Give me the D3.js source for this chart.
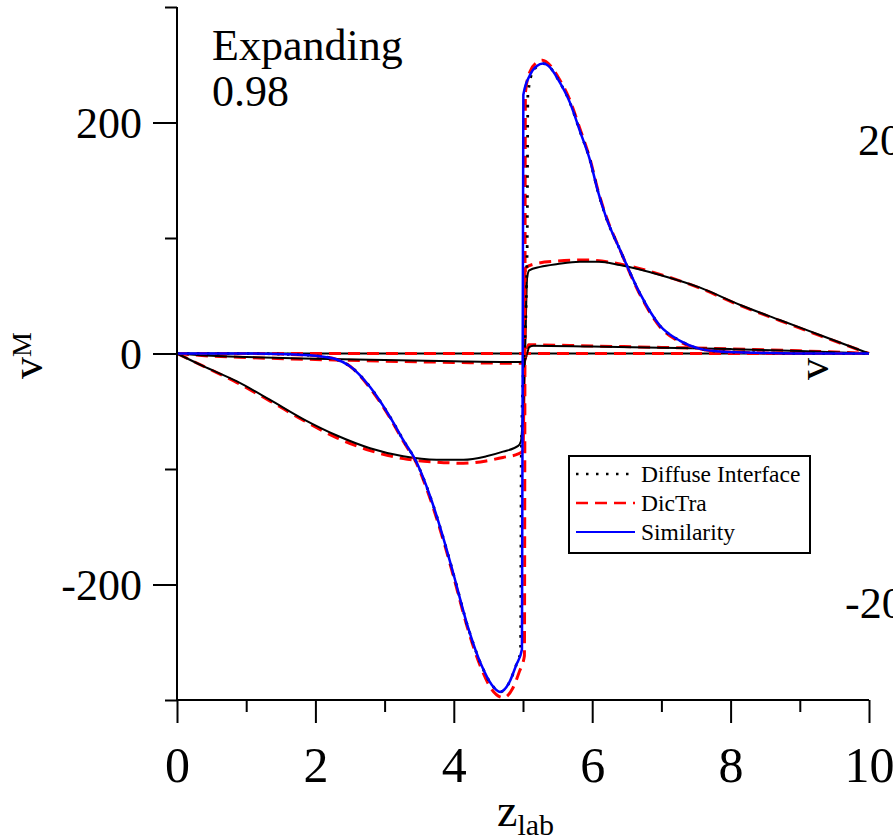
<!DOCTYPE html>
<html>
<head>
<meta charset="utf-8"/>
<title>Expanding 0.98</title>
<style>
  body { margin: 0; background: #fff; }
  svg text { font-family: "Liberation Serif", "Times New Roman", serif; fill: #000; }
</style>
</head>
<body>
<svg id="viz" width="893" height="840"></svg>
<script src="https://d3js.org/d3.v7.min.js"></script>
<script>
// ---- data: [z_lab, v^M] ----
var similarity = [[0,0],[0.5,0],[1,0],[1.5,-0.5],[2,-2],[2.3,-5],[2.5,-11],[2.79,-29],[3.08,-55],[3.27,-75],
  [3.46,-94],[3.66,-124],[3.85,-160],[4.0,-192],[4.2,-236],[4.4,-270],[4.55,-287],[4.67,-293],[4.8,-285],
  [4.9,-270],[4.985,-256],[5.005,224],[5.1,241],[5.2,249],[5.29,251],[5.4,247],[5.5,238],[5.68,217],
  [5.82,193],[5.97,167],[6.08,141],[6.2,118],[6.4,90],[6.69,52],[6.98,24],[7.27,11],[7.56,4],[7.9,1.5],
  [8.5,0.5],[9,0],[10,0]];
var dictraBig = [[0,0],[0.5,0],[1,0],[1.5,-0.5],[2,-2],[2.3,-5],[2.5,-11],[2.79,-30],[3.08,-56],[3.27,-76],
  [3.46,-95],[3.66,-126],[3.85,-162],[4.0,-194],[4.2,-238],[4.4,-273],[4.55,-291],[4.72,-298],[4.85,-290],
  [4.95,-275],[5.02,-262],[5.035,226],[5.1,244],[5.2,252],[5.28,254],[5.4,249],[5.5,240],[5.68,219],
  [5.82,195],[5.97,168],[6.08,142],[6.2,119],[6.4,90],[6.69,51],[6.98,23],[7.27,10],[7.56,4],[7.9,1.5],
  [8.5,0.5],[9,0],[10,0]];
var diffuseBig = [[0,0],[0.5,0],[1,0],[1.5,-0.5],[2,-2],[2.3,-5],[2.5,-11],[2.79,-29],[3.08,-55],[3.27,-75],
  [3.46,-94],[3.66,-124],[3.85,-160],[4.0,-192],[4.2,-236],[4.4,-270],[4.55,-287],[4.67,-293],[4.8,-285],
  [4.9,-270],[4.965,-258],[4.975,-90],[5.06,90],[5.07,224],[5.15,245],[5.29,251],[5.4,247],[5.5,238],
  [5.68,217],[5.82,193],[5.97,167],[6.08,141],[6.2,118],[6.4,90],[6.69,52],[6.98,24],[7.27,11],[7.56,4],
  [7.9,1.5],[8.5,0.5],[9,0],[10,0]];

var solidMid = [[0,0],[0.38,-11],[0.86,-24],[1.34,-40],[1.83,-57],[2.31,-71],[2.79,-82],[3.27,-89],[3.75,-92],
  [4.14,-92],[4.47,-89],[4.71,-85],[4.93,-80],[4.97,-76],[5.03,0],[5.06,66],[5.09,72],[5.25,75],[5.5,77.5],
  [5.82,79.5],[6.1,79.5],[6.4,76.6],[6.98,68],[7.56,57],[8.14,42],[8.71,29],[9.29,16],[10,0]];
var dictraMid = [[0,0],[0.38,-11],[0.86,-25],[1.34,-41],[1.83,-58],[2.31,-73],[2.79,-84],[3.27,-91],[3.75,-94],
  [4.14,-95],[4.47,-93],[4.71,-90],[4.93,-87],[5.0,-84],[5.02,0],[5.035,74],[5.2,78],[5.5,80],[5.9,81],
  [6.4,77.5],[6.98,68.5],[7.56,56.5],[8.14,41.5],[8.71,28.5],[9.29,15.5],[10,0]];

var solidSmall = [[0,0],[0.5,-2],[1,-3],[2,-4.5],[3,-5.7],[4,-6.7],[4.95,-7.3],[5.02,-6.5],[5.06,0],[5.09,5.5],
  [5.15,6.8],[6,6],[7,5],[8,3.8],[9,2.2],[10,0]];
var dictraSmall = [[0,0],[0.5,-2.3],[1,-3.5],[2,-5.2],[3,-6.6],[4,-7.7],[4.97,-8.5],[5.02,-7],[5.05,0],
  [5.08,7.5],[6,6.5],[7,5.3],[8,4],[9,2.3],[10,0]];

var zeroLine = [[0,0],[10,0]];

var xMajor = [0, 2, 4, 6, 8, 10];
var xMinor = [1, 3, 5, 7, 9];
var yMajor = [-200, 0, 200];
var yMinor = [-300, -100, 100, 300];

var legendItems = ["Diffuse Interface", "DicTra", "Similarity"];

// ---- layout ----
const svg = d3.select("#viz");
const x = d3.scaleLinear().domain([0, 10]).range([177, 869]);
const y = d3.scaleLinear().domain([-300, 300]).range([700, 7]);

const line = d3.line()
  .x(d => x(d[0]))
  .y(d => y(d[1]))
  .curve(d3.curveMonotoneX);

// styles
const sRed = {stroke: "#ff0000", width: 3, dash: "12,7"};
const sBlack = {stroke: "#000", width: 2, dash: null};
const sDot = {stroke: "#000", width: 2.8, dash: "2.5,7.5"};
const sBlue = {stroke: "#0000ff", width: 2.5, dash: null};

function draw(data, s) {
  svg.append("path")
    .datum(data)
    .attr("d", line)
    .attr("fill", "none")
    .attr("stroke", s.stroke)
    .attr("stroke-width", s.width)
    .attr("stroke-dasharray", s.dash)
    .attr("stroke-linejoin", "round");
}

// text from the neighbouring panel, clipped by the page edge
svg.append("text").attr("x", 858).attr("y", 155).attr("font-size", 44).text("200");
svg.append("text").attr("x", 845).attr("y", 618).attr("font-size", 44).text("-200");
svg.append("text").attr("transform", "translate(828,380) rotate(-90)").attr("font-size", 44).text("v");

// curves
draw(zeroLine, sBlack);
draw(zeroLine, sRed);
draw(dictraSmall, sRed);
draw(solidSmall, sBlack);
draw(dictraMid, sRed);
draw(solidMid, sBlack);
draw(dictraBig, sRed);
draw(diffuseBig, sDot);
draw(similarity, sBlue);

// axes
function styleAxis(g) {
  g.select(".domain").remove();
  g.selectAll(".tick line").attr("stroke", "#000").attr("stroke-width", 2);
}

svg.append("g")
  .attr("transform", `translate(${x(0)},0)`)
  .call(d3.axisLeft(y).tickValues(yMinor).tickSize(12).tickFormat(""))
  .call(styleAxis);
svg.append("g")
  .attr("transform", `translate(${x(0)},0)`)
  .call(d3.axisLeft(y).tickValues(yMajor).tickSize(24).tickPadding(11).tickFormat(d => String(d)))
  .call(styleAxis)
  .call(g => g.selectAll("text")
    .attr("font-size", 44)
    .attr("font-family", "Liberation Serif")
    .attr("fill", "#000")
    .attr("dy", "0.34em"));

svg.append("g")
  .attr("transform", `translate(0,${y(-300)})`)
  .call(d3.axisBottom(x).tickValues(xMinor).tickSize(12).tickFormat(""))
  .call(styleAxis);
svg.append("g")
  .attr("transform", `translate(0,${y(-300)})`)
  .call(d3.axisBottom(x).tickValues(xMajor).tickSize(23).tickFormat(d => String(d)))
  .call(styleAxis)
  .call(g => g.selectAll("text")
    .attr("font-size", 50)
    .attr("font-family", "Liberation Serif")
    .attr("fill", "#000")
    .attr("y", 82)
    .attr("dy", 0));

// axis lines
svg.append("line").attr("x1", x(0)).attr("x2", x(0)).attr("y1", y(300)).attr("y2", y(-300))
  .attr("stroke", "#000").attr("stroke-width", 2);
svg.append("line").attr("x1", x(0)).attr("x2", x(10)).attr("y1", y(-300)).attr("y2", y(-300))
  .attr("stroke", "#000").attr("stroke-width", 2);

// axis titles
const yt = svg.append("text")
  .attr("transform", "translate(42,379) rotate(-90)")
  .attr("font-size", 44);
yt.append("tspan").text("v");
yt.append("tspan").attr("font-size", 28).attr("dy", -11).text("M");

const xt = svg.append("text")
  .attr("x", 497).attr("y", 826)
  .attr("font-size", 46);
xt.append("tspan").text("z");
xt.append("tspan").attr("font-size", 30).attr("dy", 9).text("lab");

// annotation
svg.append("text").attr("x", 212).attr("y", 60).attr("font-size", 44).text("Expanding");
svg.append("text").attr("x", 212).attr("y", 106).attr("font-size", 44).text("0.98");

// legend
const lg = svg.append("g");
lg.append("rect").attr("x", 569).attr("y", 456).attr("width", 241).attr("height", 97)
  .attr("fill", "#fff").attr("stroke", "#000").attr("stroke-width", 2);
const lStyles = [sDot, sRed, sBlue];
legendItems.forEach((name, i) => {
  const yy = 474 + i * 29;
  const s = lStyles[i];
  lg.append("line").attr("x1", 576).attr("x2", 635).attr("y1", yy).attr("y2", yy)
    .attr("stroke", s.stroke).attr("stroke-width", s.width - 0.5).attr("stroke-dasharray", s.dash);
  lg.append("text").attr("x", 641).attr("y", yy + 8).attr("font-size", 23.5).text(name);
});
</script>
</body>
</html>
